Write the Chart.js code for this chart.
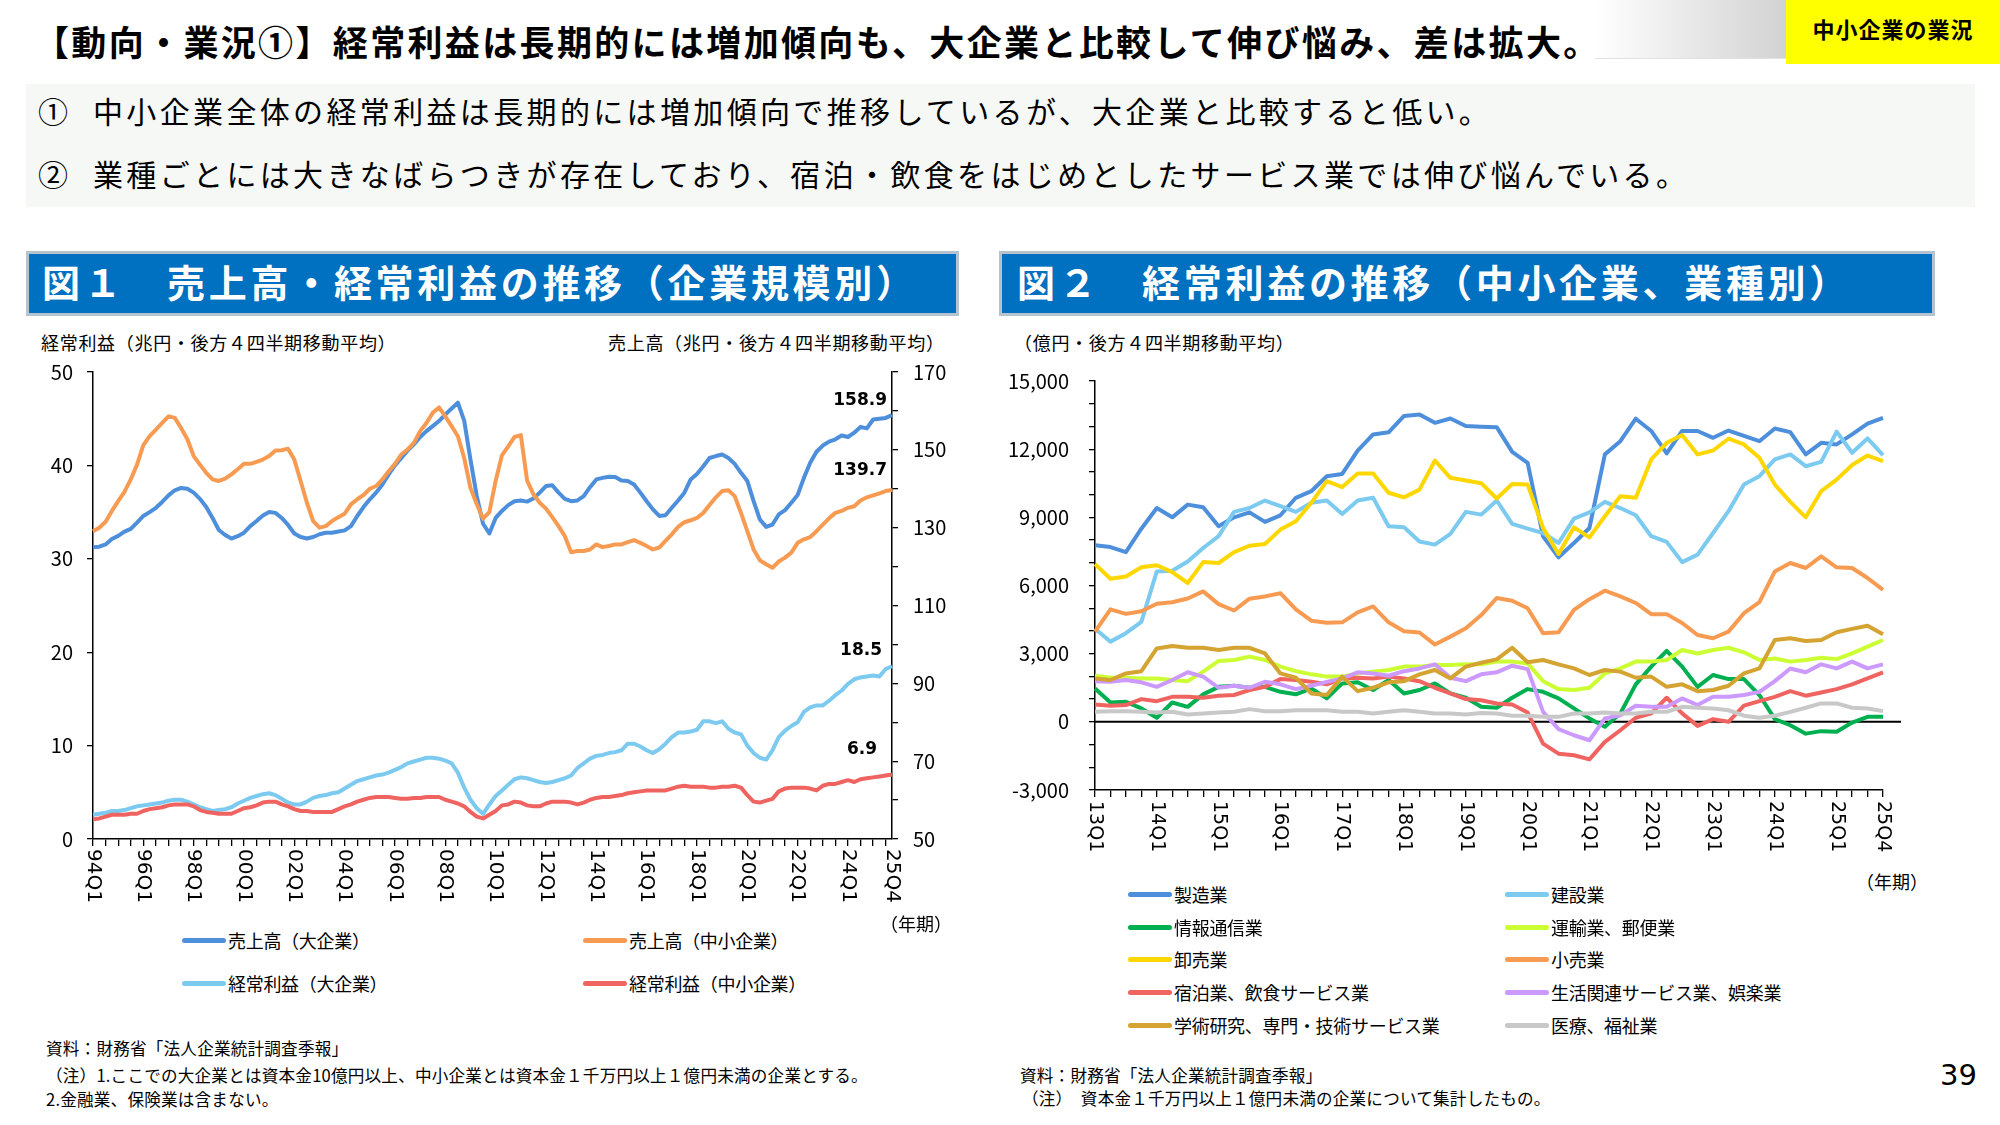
<!DOCTYPE html>
<html lang="ja">
<head>
<meta charset="utf-8">
<title>経常利益の推移</title>
<script src="https://cdn.jsdelivr.net/npm/chart.js"></script>
<style>
  body { margin: 0; width: 2000px; height: 1125px; position: relative; overflow: hidden; background: #fff; font-family: 'Noto Sans CJK JP', sans-serif; color: #000; }
  .t { position: absolute; white-space: nowrap; }
  #title { left: 34px; top: 18px; font-size: 35px; line-height: 46px; font-weight: 700; letter-spacing: 2.35px; }
  #greyTab { position: absolute; left: 1595px; top: 0; width: 191px; height: 58px; background: linear-gradient(to right, #ffffff, #d2d2d2); border-bottom: 1px solid #e2e2e2; }
  #tag { position: absolute; left: 1786px; top: 0; width: 214px; height: 64px; background: #ffff00; }
  #tagText { left: 1786px; top: 12px; width: 214px; text-align: center; font-size: 22px; line-height: 32px; font-weight: 700; letter-spacing: 1px; }
  #summary { position: absolute; left: 26px; top: 84px; width: 1949px; height: 123px; background: #f6f8f6; }
  .sum { font-size: 30px; line-height: 40px; letter-spacing: 3.35px; }
  .head { position: absolute; top: 251px; height: 59px; background: #0070c0; border: 3px solid #b6c2cd; }
  .headText { color: #fff; font-size: 38px; line-height: 59px; font-weight: 700; letter-spacing: 3.7px; top: 251px; }
  .axt { font-size: 18px; line-height: 24px; letter-spacing: 0.7px; }
  .yr { font-size: 18px; line-height: 24px; }
  .leg { font-size: 18px; line-height: 24px; letter-spacing: -0.3px; }
  .legLine { position: absolute; height: 5px; width: 44px; border-radius: 3px; }
  .note { font-size: 16.6px; line-height: 22px; letter-spacing: 0.2px; }
  canvas { position: absolute; }
</style>
</head>
<body>

<div class="t" id="title">【動向・業況①】経常利益は長期的には増加傾向も、大企業と比較して伸び悩み、差は拡大。</div>
<div id="greyTab"></div>
<div id="tag"></div>
<div class="t" id="tagText">中小企業の業況</div>

<div id="summary"></div>
<div class="t sum" style="left:38px;top:90px;">①</div>
<div class="t sum" style="left:93px;top:90px;">中小企業全体の経常利益は長期的には増加傾向で推移しているが、大企業と比較すると低い。</div>
<div class="t sum" style="left:38px;top:153px;">②</div>
<div class="t sum" style="left:93px;top:153px;">業種ごとには大きなばらつきが存在しており、宿泊・飲食をはじめとしたサービス業では伸び悩んでいる。</div>

<div class="head" style="left:26px;width:927px;"></div>
<div class="t headText" style="left:42px;">図１　売上高・経常利益の推移（企業規模別）</div>
<div class="head" style="left:999px;width:930px;"></div>
<div class="t headText" style="left:1017px;">図２　経常利益の推移（中小企業、業種別）</div>

<div class="t axt" style="left:41px;top:330px;">経常利益（兆円・後方４四半期移動平均）</div>
<div class="t axt" style="left:608px;top:330px;">売上高（兆円・後方４四半期移動平均）</div>
<div class="t axt" style="left:1014px;top:330px;">（億円・後方４四半期移動平均）</div>

<canvas id="chart1" width="980" height="570" style="left:0;top:350px;"></canvas>
<canvas id="chart2" width="1010" height="510" style="left:990px;top:350px;"></canvas>

<div class="t yr" style="left:880px;top:911px;">（年期）</div>
<div class="t yr" style="left:1856px;top:869px;">（年期）</div>

<div id="legend1"></div>
<div id="legend2"></div>

<div class="t note" style="left:46px;top:1037px;">資料：財務省「法人企業統計調査季報」</div>
<div class="t note" style="left:46px;top:1064px;">（注）1.ここでの大企業とは資本金10億円以上、中小企業とは資本金１千万円以上１億円未満の企業とする。</div>
<div class="t note" style="left:46px;top:1088px;">2.金融業、保険業は含まない。</div>
<div class="t note" style="left:1020px;top:1064px;">資料：財務省「法人企業統計調査季報」</div>
<div class="t note" style="left:1022px;top:1087px;">（注）　資本金１千万円以上１億円未満の企業について集計したもの。</div>
<div class="t" style="right:23px;top:1057px;font-family:'DejaVu Sans';font-size:29px;line-height:36px;">39</div>

<script>
// ---- 図1 data (quarterly, 94Q1 - 25Q4) ----
const quarters1 = [];
for (let y = 1994; y <= 2025; y++) for (let q = 1; q <= 4; q++) quarters1.push(String(y % 100).padStart(2, '0') + 'Q' + q);
const xTicks1 = ['94Q1','96Q1','98Q1','00Q1','02Q1','04Q1','06Q1','08Q1','10Q1','12Q1','14Q1','16Q1','18Q1','20Q1','22Q1','24Q1','25Q4'];

// 売上高（大企業） 兆円
const salesLarge = [
  125.0,125.1,125.7,127.1,127.9,129.0,129.7,131.3,133.0,134.0,
  135.1,136.6,138.3,139.6,140.2,140.0,139.0,137.4,135.3,132.5,
  129.4,128.1,127.2,127.8,128.7,130.4,131.7,133.1,134.0,133.8,
  132.5,130.7,128.5,127.6,127.2,127.6,128.3,128.7,128.7,129.0,
  129.3,130.4,133.0,135.3,137.3,139.0,141.1,143.7,146.0,147.9,
  149.8,151.4,153.3,154.8,156.1,157.4,159.1,160.6,162.1,157.5,
  147.5,138.1,131.0,128.5,132.5,134.3,135.8,136.8,137.0,136.7,
  137.5,139.0,140.7,140.9,139.0,137.4,136.8,137.0,138.1,140.4,
  142.4,142.8,143.1,143.0,142.1,142.0,141.1,139.0,136.8,134.7,
  133.0,133.2,135.1,137.0,139.0,142.4,143.8,145.8,147.9,148.4,
  148.8,147.9,146.4,144.1,142.0,136.8,132.1,130.2,130.8,133.4,
  134.5,136.4,138.4,142.8,146.7,149.5,151.1,152.1,152.7,153.7,
  153.3,154.4,155.9,155.5,157.8,158.0,158.2,158.9];
// 売上高（中小企業） 兆円
const salesSme = [
  129.1,130.0,131.5,134.3,136.8,139.2,142.4,146.2,151.2,153.5,
  155.2,156.9,158.6,158.2,155.6,152.7,148.4,146.2,144.1,142.4,
  142.0,142.6,143.7,145.0,146.4,146.4,146.9,147.5,148.4,149.8,
  149.9,150.3,147.5,142.0,136.4,131.7,130.0,130.4,131.7,132.7,
  133.6,136.0,137.3,138.4,140.0,140.7,142.4,144.5,146.4,148.8,
  150.1,151.8,154.8,156.9,159.5,160.9,158.6,156.1,153.5,147.9,
  140.2,136.0,132.3,134.0,142.0,148.6,150.9,153.3,153.8,142.1,
  138.6,136.4,134.9,132.7,130.4,127.8,123.7,124.0,124.0,124.4,
  125.7,125.0,125.3,125.7,125.7,126.3,126.8,126.1,125.3,124.4,
  124.9,126.6,128.3,130.2,131.4,131.9,132.5,133.8,135.8,137.8,
  139.4,139.6,138.1,133.8,129.1,124.4,121.6,120.6,119.7,121.3,
  122.3,123.6,126.1,127.0,127.6,129.1,130.8,132.4,133.8,134.3,
  135.1,135.5,137.0,137.8,138.3,138.8,139.4,139.7];
// 経常利益（大企業） 兆円
const profitLarge = [
  2.6,2.7,2.8,3.0,3.0,3.1,3.3,3.5,3.6,3.7,
  3.8,3.9,4.1,4.2,4.2,4.0,3.7,3.4,3.2,3.0,
  3.1,3.2,3.4,3.8,4.1,4.4,4.6,4.8,4.9,4.7,
  4.3,3.9,3.7,3.7,4.0,4.4,4.6,4.7,4.9,5.0,
  5.4,5.8,6.2,6.4,6.6,6.8,6.9,7.1,7.4,7.7,
  8.1,8.3,8.5,8.7,8.7,8.6,8.4,8.1,7.1,5.5,
  4.2,3.3,2.7,3.7,4.6,5.2,5.8,6.4,6.6,6.5,
  6.3,6.1,6.0,6.1,6.3,6.5,6.8,7.6,8.1,8.6,
  8.9,9.0,9.2,9.3,9.5,10.2,10.2,9.9,9.5,9.2,
  9.6,10.2,10.9,11.4,11.4,11.5,11.7,12.6,12.6,12.4,
  12.6,11.8,11.4,11.2,10.0,9.2,8.7,8.5,9.5,10.9,
  11.6,12.1,12.5,13.6,14.1,14.3,14.3,14.8,15.4,15.9,
  16.6,17.1,17.3,17.4,17.5,17.4,18.2,18.5];
// 経常利益（中小企業） 兆円
const profitSme = [
  2.1,2.2,2.4,2.6,2.6,2.6,2.7,2.7,3.0,3.2,
  3.3,3.4,3.6,3.7,3.7,3.7,3.5,3.1,2.9,2.8,
  2.7,2.7,2.7,3.0,3.3,3.4,3.6,3.9,4.0,4.0,
  3.7,3.5,3.2,3.0,3.0,2.9,2.9,2.9,2.9,3.2,
  3.5,3.7,4.0,4.2,4.4,4.5,4.5,4.5,4.4,4.3,
  4.3,4.4,4.4,4.5,4.5,4.5,4.2,4.0,3.8,3.5,
  2.9,2.4,2.2,2.6,3.0,3.6,3.7,4.0,3.9,3.6,
  3.5,3.5,3.8,4.0,4.0,4.0,3.9,3.7,3.9,4.2,
  4.4,4.5,4.5,4.6,4.7,4.9,5.0,5.1,5.2,5.2,
  5.2,5.2,5.4,5.6,5.7,5.6,5.6,5.6,5.5,5.5,
  5.6,5.6,5.7,5.5,4.7,4.0,3.9,4.1,4.3,5.1,
  5.4,5.5,5.5,5.5,5.4,5.2,5.7,5.9,5.9,6.1,
  6.3,6.1,6.4,6.5,6.6,6.7,6.8,6.9];

// ---- 図2 data (quarterly, 13Q1 - 25Q4), 億円 ----
const quarters2 = [];
for (let y = 2013; y <= 2025; y++) for (let q = 1; q <= 4; q++) quarters2.push(String(y % 100) + 'Q' + q);
const xTicks2 = ['13Q1','14Q1','15Q1','16Q1','17Q1','18Q1','19Q1','20Q1','21Q1','22Q1','23Q1','24Q1','25Q1','25Q4'];

const manufacturing = [7770,7690,7470,8500,9410,9000,9560,9440,8610,9000,9220,8800,9090,9860,10150,10810,10910,11940,12650,12740,13460,13530,13160,13350,13020,12990,12970,11880,11400,8160,7240,7870,8530,11770,12350,13340,12800,11810,12800,12800,12500,12820,12580,12350,12910,12750,11770,12280,12210,12650,13120,13380];
const construction = [4100,3530,3900,4400,6620,6650,7060,7650,8170,9240,9410,9740,9490,9240,9640,9740,9150,9740,9860,8610,8560,7940,7800,8270,9240,9120,9740,8710,8500,8310,7870,8940,9220,9680,9410,9090,8170,7920,7030,7360,8310,9270,10440,10810,11550,11770,11250,11440,12770,11840,12470,11740];
const infoComm = [1470,850,880,590,180,850,660,1210,1540,1590,1500,1540,1320,1210,1470,1030,1690,1740,1400,1840,1250,1400,1690,1250,1060,660,620,1060,1440,1320,1030,590,150,-220,370,1650,2430,3120,2430,1540,2060,1880,1880,1180,120,-150,-520,-410,-440,-30,220,220];
const transport = [2030,1940,1940,1910,1910,1840,1790,2210,2680,2720,2870,2720,2430,2230,2090,1990,1990,2130,2210,2280,2430,2430,2500,2500,2530,2530,2650,2650,2570,1790,1440,1400,1500,2130,2350,2650,2650,2720,3160,3010,3160,3260,3060,2720,2790,2650,2720,2820,2760,3010,3310,3600];
const wholesale = [6940,6300,6400,6800,6890,6590,6110,7030,6990,7470,7750,7830,8460,8830,9640,10590,10330,10930,10930,10080,9880,10220,11500,10740,10620,10500,9830,10470,10440,8530,7390,8560,8120,9050,9930,9860,11550,12280,12620,11770,11940,12460,12210,11620,10440,9680,9000,10150,10660,11300,11720,11470];
const retail = [3970,4950,4750,4870,5200,5260,5430,5740,5180,4900,5420,5520,5660,4950,4450,4360,4380,4820,5080,4380,3990,3930,3400,3750,4120,4700,5450,5330,5000,3900,3940,4930,5400,5770,5520,5230,4740,4740,4350,3820,3680,3970,4780,5270,6620,6990,6770,7280,6800,6770,6330,5810];
const lodging = [760,710,740,1000,910,1100,1100,1060,1150,1180,1400,1540,1880,1840,1760,1650,1910,1940,1910,1990,1910,1790,1500,1250,1000,950,810,760,410,-960,-1400,-1470,-1650,-880,-370,180,370,1060,370,-180,120,0,710,910,1100,1350,1150,1290,1440,1650,1910,2180];
const living = [1790,1760,1840,1740,1540,1840,2180,1990,1500,1590,1500,1760,1650,1440,1590,1760,1910,2180,2130,2030,2230,2350,2530,1940,1790,2090,2180,2470,2320,440,-320,-590,-810,150,290,710,660,660,1030,740,1100,1100,1180,1320,1790,2350,2180,2530,2350,2650,2350,2530];
const academic = [1910,1840,2130,2230,3230,3340,3260,3260,3160,3260,3260,3010,2130,1940,1250,1180,1990,1350,1500,1740,1790,2090,2280,1910,2430,2600,2750,3260,2620,2720,2530,2350,2060,2280,2210,1940,1990,1540,1650,1350,1400,1590,2130,2350,3600,3680,3560,3600,3940,4090,4230,3850];
const health = [440,470,470,440,410,440,320,370,410,440,560,470,470,510,510,510,440,440,370,440,510,440,370,370,320,390,370,270,270,220,220,370,370,410,370,370,440,440,660,620,590,510,270,180,270,440,620,810,810,620,590,470];

const FONT = "'Noto Sans CJK JP', sans-serif";
Chart.defaults.color = '#000';
Chart.defaults.font.family = FONT;

// rotated category labels, zero line and end-value labels
const slideDeco = {
  id: 'slideDeco',
  beforeDatasetsDraw(chart, args, opts) {
    if (!opts.zeroExtend) return;
    const ctx = chart.ctx, area = chart.chartArea;
    const y = chart.scales.y.getPixelForValue(0);
    ctx.save();
    ctx.strokeStyle = '#000';
    ctx.lineWidth = 2;
    ctx.beginPath();
    ctx.moveTo(area.left, y);
    ctx.lineTo(area.right + opts.zeroExtend, y);
    ctx.stroke();
    ctx.restore();
  },
  afterDraw(chart, args, opts) {
    const ctx = chart.ctx;
    const xs = chart.scales.x;
    ctx.save();
    ctx.fillStyle = '#000';
    ctx.font = opts.xFont;
    ctx.textAlign = 'left';
    ctx.textBaseline = 'middle';
    opts.xLabels.forEach(lab => {
      const i = chart.data.labels.indexOf(lab);
      ctx.save();
      ctx.translate(xs.getPixelForValue(i), xs.top + opts.xGap);
      ctx.rotate(Math.PI / 2);
      ctx.fillText(lab, 0, 0);
      ctx.restore();
    });
    chart.data.datasets.forEach((ds, di) => {
      if (!ds.endLabel) return;
      const pts = chart.getDatasetMeta(di).data;
      const p = pts[pts.length - 1];
      ctx.font = 'bold 17px "DejaVu Sans"';
      ctx.textAlign = 'right';
      ctx.fillText(ds.data[ds.data.length - 1].toFixed(1), p.x + ds.endLabel.dx, p.y + ds.endLabel.dy);
    });
    ctx.restore();
  }
};

function lineSet(label, data, color, n, i, axis, extra) {
  return Object.assign({
    label, data, borderColor: color, backgroundColor: color,
    borderWidth: 4, pointRadius: 0, tension: 0, borderJoinStyle: 'round',
    yAxisID: axis, order: n - i
  }, extra || {});
}

// fixed axis sizes so the plot areas sit where the slide has them
function fixWidth(w) { return s => { s.width = w; s.paddingTop = 0; s.paddingBottom = 0; }; }
function fixHeight(h) { return s => { s.height = h; s.paddingLeft = 0; s.paddingRight = 0; }; }

// ---- 図1 ----
const sets1 = [
  lineSet('売上高（大企業）', salesLarge, '#4e8fdc', 4, 0, 'y1', { endLabel: { dx: -5, dy: -15 } }),
  lineSet('売上高（中小企業）', salesSme, '#f89b52', 4, 1, 'y1', { endLabel: { dx: -5, dy: -19 } }),
  lineSet('経常利益（大企業）', profitLarge, '#7ccaef', 4, 2, 'y', { endLabel: { dx: -10, dy: -16 } }),
  lineSet('経常利益（中小企業）', profitSme, '#ef6461', 4, 3, 'y', { endLabel: { dx: -15, dy: -25 } })
];

new Chart(document.getElementById('chart1'), {
  type: 'line',
  data: { labels: quarters1, datasets: sets1 },
  plugins: [slideDeco],
  options: {
    responsive: false,
    animation: false,
    devicePixelRatio: 1,
    layout: { padding: { top: 22, left: 0, right: 0, bottom: 0 } },
    plugins: {
      legend: { display: false },
      tooltip: { enabled: false },
      slideDeco: { xLabels: xTicks1, xFont: '20px "DejaVu Sans"', xGap: 10 }
    },
    scales: {
      x: {
        type: 'category', offset: false,
        ticks: { display: false, autoSkip: false },
        grid: { drawOnChartArea: false, drawTicks: true, tickLength: 7, lineWidth: 1.3,
                tickColor: c => c.index % 2 === 0 ? '#000' : 'rgba(0,0,0,0)' },
        border: { color: '#000', width: 1.5 },
        afterFit: fixHeight(81)
      },
      y: {
        position: 'left', min: 0, max: 50,
        ticks: { stepSize: 10, padding: 14, autoSkip: false, font: { size: 20 } },
        grid: { drawOnChartArea: false, tickLength: 6, tickColor: '#000', lineWidth: 1.3 },
        border: { color: '#000', width: 1.5 },
        afterFit: fixWidth(93)
      },
      y1: {
        position: 'right', min: 50, max: 170,
        ticks: { stepSize: 10, padding: 15, autoSkip: false, font: { size: 20 },
                 callback: v => ((v - 50) % 20 === 0 ? v : '') },
        grid: { drawOnChartArea: false, tickLength: 6, tickColor: '#000', lineWidth: 1.3 },
        border: { color: '#000', width: 1.5 },
        afterFit: fixWidth(88)
      }
    }
  }
});

// ---- 図2 ----
const names2 = ['製造業','建設業','情報通信業','運輸業、郵便業','卸売業','小売業','宿泊業、飲食サービス業','生活関連サービス業、娯楽業','学術研究、専門・技術サービス業','医療、福祉業'];
const series2 = [manufacturing, construction, infoComm, transport, wholesale, retail, lodging, living, academic, health];
const colors2 = ['#4e8fdc','#7ccaef','#00b050','#ccff33','#ffd700','#f89b52','#ef6461','#cc99ff','#d4a331','#c8c8c8'];
const sets2 = names2.map((nm, i) => lineSet(nm, series2[i], colors2[i], names2.length, i, 'y'));

new Chart(document.getElementById('chart2'), {
  type: 'line',
  data: { labels: quarters2, datasets: sets2 },
  plugins: [slideDeco],
  options: {
    responsive: false,
    animation: false,
    devicePixelRatio: 1,
    layout: { padding: { top: 31, left: 0, right: 117, bottom: 0 } },
    plugins: {
      legend: { display: false },
      tooltip: { enabled: false },
      slideDeco: { xLabels: xTicks2, xFont: '19px "DejaVu Sans"', xGap: 11, zeroExtend: 18 }
    },
    scales: {
      x: {
        type: 'category', offset: false,
        ticks: { display: false, autoSkip: false },
        grid: { drawOnChartArea: false, drawTicks: true, tickLength: 7, lineWidth: 1.3, tickColor: '#000' },
        border: { color: '#000', width: 1.5 },
        afterFit: fixHeight(70)
      },
      y: {
        position: 'left', min: -3000, max: 15000,
        ticks: { stepSize: 1000, padding: 20, autoSkip: false, font: { size: 20 },
                 callback: v => (v % 3000 === 0 ? v.toLocaleString('en-US') : '') },
        grid: { drawOnChartArea: false, tickLength: 6, tickColor: '#000', lineWidth: 1.3 },
        border: { color: '#000', width: 1.5 },
        afterFit: fixWidth(105)
      }
    }
  }
});

// ---- HTML legends ----
function buildLegend(holderId, sets, colX, rowY) {
  const holder = document.getElementById(holderId);
  sets.forEach((ds, k) => {
    const x = colX[k % 2], y = rowY[Math.floor(k / 2)];
    const line = document.createElement('div');
    line.className = 'legLine';
    line.style.left = x + 'px';
    line.style.top = (y - 2.5) + 'px';
    line.style.background = ds.borderColor;
    holder.appendChild(line);
    const txt = document.createElement('div');
    txt.className = 't leg';
    txt.style.left = (x + 46) + 'px';
    txt.style.top = (y - 12) + 'px';
    txt.textContent = ds.label;
    holder.appendChild(txt);
  });
}
buildLegend('legend1', sets1, [182, 583], [940, 983]);
buildLegend('legend2', sets2, [1128, 1505], [894, 927, 959, 992, 1025]);
</script>
</body>
</html>
